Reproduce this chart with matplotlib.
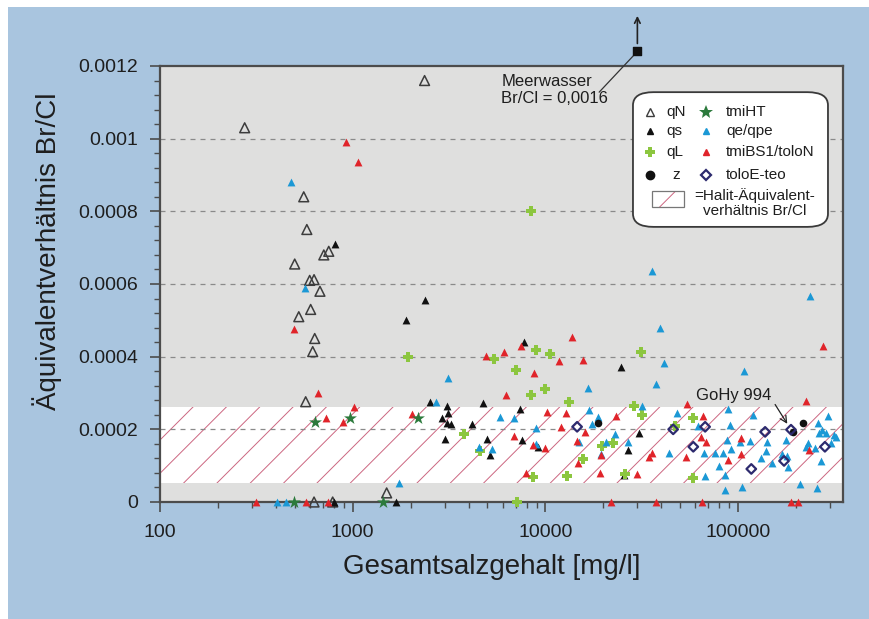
import matplotlib
matplotlib.use('Agg')
import matplotlib.pyplot as plt
from matplotlib.patches import FancyBboxPatch, Rectangle
from matplotlib.ticker import FixedLocator, FuncFormatter, NullFormatter

plt.rcParams['font.family'] = ['Liberation Sans', 'DejaVu Sans']
plt.rcParams['hatch.linewidth'] = 0.7

# --- data (Gesamtsalzgehalt mg/l, Br/Cl ratio) ---
qN_x = [275, 557, 578, 708, 751, 500, 598, 630, 676, 605, 525, 635, 620, 570, 1500, 2360, 630, 787]
qN_y = [0.00103, 0.00084, 0.00075, 0.00068, 0.00069, 0.000655, 0.00061, 0.000612, 0.00058, 0.00053,
        0.00051, 0.00045, 0.000414, 0.000276, 0.000025, 0.00116, 0, 0]

qs_x = [807, 2380, 1900, 7700, 2530, 3070, 4720, 2920, 3140, 3070, 3220, 4140, 3000, 4950, 5130,
        7400, 7600, 9100, 24800, 30700, 26900, 25700, 1670, 800]
qs_y = [0.00071, 0.000557, 0.0005, 0.00044, 0.000276, 0.000265, 0.000273, 0.00023, 0.000245, 0.000218,
        0.000215, 0.000215, 0.000174, 0.000174, 0.00013, 0.000257, 0.000171, 0.000152, 0.000372, 0.00019,
        0.000143, 0.000075, 0, 0]

qL_x = [8460, 1930, 5440, 7070, 8980, 8460, 3800, 4550, 8570, 7100, 10600, 10000, 13300, 31400, 28900,
        31600, 19700, 22500, 15700, 13000, 26000, 58500, 58500, 47000]
qL_y = [0.0008, 0.0004, 0.000394, 0.000364, 0.000417, 0.000295, 0.000188, 0.00014, 0.00007, 0, 0.000408,
        0.00031, 0.000276, 0.000414, 0.000265, 0.00024, 0.000154, 0.000163, 0.000119, 0.000072, 0.000077,
        0.00023, 0.000066, 0.00021]

tmiHT_x = [635, 964, 2170, 494, 1430]
tmiHT_y = [0.00022, 0.00023, 0.00023, 0, 0]

qe_x = [477, 564, 3140, 2720, 1730, 5780, 6830, 8980, 4500, 5310, 8900, 404, 450, 39400, 41400, 37600,
        16700, 16900, 18800, 17500, 23000, 20700, 19500, 26900, 43900, 31800, 48300, 15000, 35800, 236000,
        107000, 88800, 120000, 91000, 62000, 87700, 102000, 115000, 141000, 177000, 230000, 251000, 260000,
        272000, 292000, 322000, 303000, 269000, 76000, 83600, 66700, 85700, 67400, 85700, 105000, 131000,
        140000, 150000, 169000, 182000, 209000, 257000, 225000, 92000, 79800, 179000, 263000, 286000, 314000]
qe_y = [0.00088, 0.00059, 0.00034, 0.000276, 0.000052, 0.000234, 0.000232, 0.000204, 0.000152, 0.000146,
        0.00016, 0, 0, 0.00048, 0.000383, 0.000326, 0.000314, 0.000254, 0.000234, 0.000215, 0.000188,
        0.000166, 0.000132, 0.000166, 0.000135, 0.000265, 0.000246, 0.000166, 0.000637, 0.000568, 0.000361,
        0.000257, 0.00024, 0.000212, 0.00021, 0.000171, 0.000166, 0.000168, 0.000166, 0.000171, 0.000163,
        0.000149, 0.000218, 0.000199, 0.000237, 0.000179, 0.000163, 0.000113, 0.000135, 0.000135, 0.000135,
        0.000075, 0.000072, 0.000033, 0.000041, 0.000121, 0.000141, 0.000108, 0.000132, 0.000097, 0.00005,
        0.000039, 0.000152, 0.000146, 0.000099, 0.000127, 0.00019, 0.00019, 0.000185]

tmiBS1_x = [920, 1070, 494, 659, 1010, 724, 888, 314, 571, 742, 22000, 37600, 65100, 188000, 205000,
            2020, 4890, 6060, 7510, 8770, 6280, 6830, 8570, 7970, 13800, 11700, 15600, 10200, 12800, 12000,
            23300, 16100, 14500, 9900, 19500, 14700, 19300, 35800, 34600, 30000, 53800, 54400, 275000,
            225000, 65900, 64300, 68200, 88800, 104000, 104000, 233000]
tmiBS1_y = [0.00099, 0.000935, 0.000477, 0.0003, 0.000262, 0.000232, 0.00022, 0, 0, 0, 0, 0, 0, 0, 0,
            0.000243, 0.000403, 0.000414, 0.00043, 0.000356, 0.000295, 0.000182, 0.000157, 0.00008,
            0.000455, 0.000389, 0.000392, 0.000248, 0.000246, 0.000207, 0.000237, 0.000193, 0.000168,
            0.000149, 0.00013, 0.000108, 0.00008, 0.000135, 0.000124, 0.000077, 0.000124, 0.00027, 0.00043,
            0.000279, 0.000237, 0.000179, 0.000166, 0.000116, 0.000177, 0.000132, 0.000143]

z_x = [18800, 193000, 217000]
z_y = [0.000218, 0.000193, 0.000218]

tolo_x = [14600, 46000, 67400, 58500, 117000, 138000, 173000, 188000, 282000]
tolo_y = [0.000207, 0.0002, 0.000207, 0.000152, 0.000091, 0.000193, 0.000113, 0.000199, 0.000152]

# halite equivalent band and sea water (off scale, real value 0.0016)
halit_lo, halit_hi = 0.000052, 0.000262
sea_x, sea_y = 30000, 0.00124
gohy_x, gohy_y = 188000, 0.000199

xticks = [100, 1000, 10000, 100000]
yticks = [0, 0.0002, 0.0004, 0.0006, 0.0008, 0.001, 0.0012]
ytick_labels = ['0', '0.0002', '0.0004', '0.0006', '0.0008', '0.001', '0.0012']

BLUE_BG = '#a9c5df'
PLOT_BG = '#dfdfde'
TXT = '#1e1e1e'
SPINE = '#4c4c4c'
HATCH = '#cc6680'

fig = plt.figure(figsize=(8.7, 6.19), dpi=100)
fig.patch.set_facecolor('white')
fig.patches.append(Rectangle((8 / 870, 0), 1, 1 - 7 / 619, transform=fig.transFigure,
                             facecolor=BLUE_BG, edgecolor='none', zorder=-10))

ax = fig.add_axes([160 / 870, 1 - 502 / 619, 683 / 870, 436 / 619])
ax.set_facecolor(PLOT_BG)
ax.set_xscale('log')
ax.set_xlim(100, 350000)
ax.set_ylim(0, 0.0012)

# hatched band
ax.axhspan(halit_lo, halit_hi, facecolor='white', edgecolor=HATCH, hatch='/', linewidth=0, zorder=0.2)

# grid
for yv in yticks[1:-1]:
    ax.axhline(yv, color='#8a8a8a', lw=0.9, ls=(0, (4, 4)), zorder=0.6)

# series
kw = dict(clip_on=False, zorder=3)
ax.scatter(qN_x, qN_y, marker='^', s=50, facecolors='none', edgecolors='#3c3c3c', linewidths=1.1, **kw)
ax.scatter(qs_x, qs_y, marker='^', s=32, color='#111111', linewidths=0, **kw)
ax.scatter(qL_x, qL_y, marker='P', s=55, color='#8cc63f', linewidths=0, **kw)
ax.scatter(qe_x, qe_y, marker='^', s=32, color='#1b98d5', linewidths=0, **kw)
ax.scatter(tmiBS1_x, tmiBS1_y, marker='^', s=32, color='#e0242a', linewidths=0, **kw)
ax.scatter(tmiHT_x, tmiHT_y, marker='*', s=95, color='#2c7a3c', linewidths=0, **kw)
ax.scatter(z_x, z_y, marker='o', s=30, color='#111111', linewidths=0, **kw)
ax.scatter(tolo_x, tolo_y, marker='D', s=24, facecolors='none', edgecolors='#2d2a6e', linewidths=1.6, **kw)

# sea water
ax.scatter([sea_x], [sea_y], marker='s', s=34, color='#111111', clip_on=False, zorder=4)
ax.annotate('', xy=(sea_x, 0.001338), xytext=(sea_x, 0.001262), annotation_clip=False,
            arrowprops=dict(arrowstyle='->', color='#222222', lw=1.2, shrinkA=0, shrinkB=0))
ax.text(5900, 0.001134, 'Meerwasser\nBr/Cl = 0,0016', fontsize=12, color=TXT, va='center', ha='left',
        linespacing=1.2)
ax.annotate('', xy=(sea_x, sea_y), xytext=(19000, 0.001128), annotation_clip=False,
            arrowprops=dict(arrowstyle='-', color='#333333', lw=0.9, shrinkA=0, shrinkB=4))

ax.annotate('GoHy 994', xy=(gohy_x, gohy_y), xytext=(60600, 0.000292), fontsize=12, color=TXT,
            va='center', ha='left',
            arrowprops=dict(arrowstyle='->', color='#222222', lw=0.9, relpos=(1.0, 0.3),
                            shrinkA=1, shrinkB=5))

# axes styling
for sp in ax.spines.values():
    sp.set_color(SPINE)
    sp.set_linewidth(1.6)
ax.xaxis.set_major_locator(FixedLocator(xticks))
ax.xaxis.set_major_formatter(FuncFormatter(lambda v, p: f'{int(round(v))}'))
ax.xaxis.set_minor_locator(FixedLocator([m * 10 ** e for e in range(2, 6) for m in range(2, 10)
                                         if m * 10 ** e < 350000]))
ax.xaxis.set_minor_formatter(NullFormatter())
ax.yaxis.set_major_locator(FixedLocator(yticks))
ax.set_yticklabels(ytick_labels)
ax.yaxis.set_minor_locator(FixedLocator([i * 0.00004 for i in range(31)]))
ax.tick_params(which='major', direction='out', length=7, width=1.2, color=SPINE,
               labelsize=14, labelcolor=TXT, pad=9)
ax.tick_params(which='minor', direction='out', length=4, width=1.0, color=SPINE)

ax.set_xlabel('Gesamtsalzgehalt [mg/l]', fontsize=20, color=TXT)
ax.set_ylabel('Äquivalentverhältnis Br/Cl', fontsize=20, color=TXT)
ax.xaxis.set_label_coords(0.486, -0.12)
ax.yaxis.set_label_coords(-0.143, 0.575)

# legend box (drawn by hand)
lx0, ly0, lx1, ly1 = 0.6925, 0.631, 0.978, 0.940
ax.add_patch(FancyBboxPatch((lx0, ly0), lx1 - lx0, ly1 - ly0, transform=ax.transAxes,
                            boxstyle='round,pad=0,rounding_size=0.03', facecolor='white',
                            edgecolor='#3a3a3a', lw=1.3, zorder=5, clip_on=False))
c1m, c1t, c2m, c2t = 0.717, 0.742, 0.799, 0.829
rows = [0.894, 0.850, 0.803, 0.749]
lkw = dict(transform=ax.transAxes, clip_on=False, zorder=6, ls='none')
tkw = dict(transform=ax.transAxes, fontsize=11, color=TXT, va='center', zorder=6)
ax.plot(c1m, rows[0], marker='^', ms=5.5, mfc='none', mec='#3c3c3c', mew=1.0, **lkw)
ax.text(c1t, rows[0], 'qN', **tkw)
ax.plot(c1m, rows[1], marker='^', ms=5, color='#111111', **lkw)
ax.text(c1t, rows[1], 'qs', **tkw)
ax.plot(c1m, rows[2], marker='P', ms=7, color='#8cc63f', mew=0, **lkw)
ax.text(c1t, rows[2], 'qL', **tkw)
ax.plot(c1m, rows[3], marker='o', ms=6, color='#111111', **lkw)
ax.text(c1t + 0.008, rows[3], 'z', **tkw)
ax.plot(c2m, rows[0], marker='*', ms=10, color='#2c7a3c', mew=0, **lkw)
ax.text(c2t, rows[0], 'tmiHT', **tkw)
ax.plot(c2m, rows[1], marker='^', ms=5, color='#1b98d5', **lkw)
ax.text(c2t, rows[1], 'qe/qpe', **tkw)
ax.plot(c2m, rows[2], marker='^', ms=5, color='#e0242a', **lkw)
ax.text(c2t, rows[2], 'tmiBS1/toloN', **tkw)
ax.plot(c2m, rows[3], marker='D', ms=5, mfc='none', mec='#2d2a6e', mew=1.6, **lkw)
ax.text(c2t, rows[3], 'toloE-teo', **tkw)
ax.add_patch(Rectangle((0.720, 0.677), 0.047, 0.037, transform=ax.transAxes, facecolor='white',
                       edgecolor=HATCH, hatch='/', lw=0, zorder=6, clip_on=False))
ax.add_patch(Rectangle((0.720, 0.677), 0.047, 0.037, transform=ax.transAxes, facecolor='none',
                       edgecolor='#777777', lw=0.9, zorder=7, clip_on=False))
ax.text(0.870, 0.686, '=Halit-Äquivalent-\nverhältnis Br/Cl', ha='center', multialignment='center',
        linespacing=1.05, **{k: v for k, v in tkw.items()})

fig.savefig('out.png', dpi=100, facecolor=fig.get_facecolor())
